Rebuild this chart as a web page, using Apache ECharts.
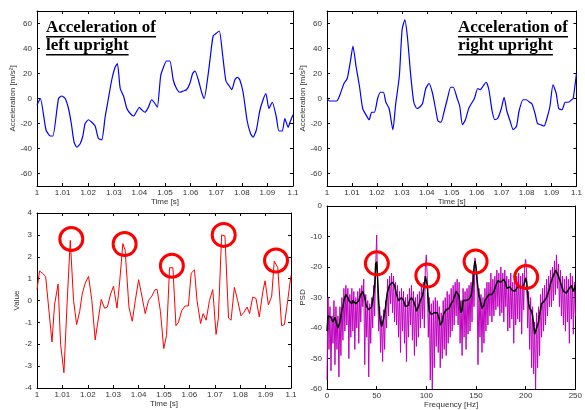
<!DOCTYPE html>
<html>
<head>
<meta charset="utf-8">
<script src="https://cdn.jsdelivr.net/npm/echarts@6/dist/echarts.min.js"></script>
<style>
  html, body { margin: 0; padding: 0; background: #fff; }
  #chart { width: 585px; height: 410px; }
</style>
</head>
<body>
<div id="chart"></div>
<script>
// --- top-left: acceleration of left upright ---
const leftTime = [1.0000,1.0013,1.0035,1.0052,1.0062,1.0084,1.0097,1.0110,1.0123,1.0134,
  1.0145,1.0156,1.0169,1.0179,1.0188,1.0201,1.0214,1.0227,1.0240,1.0253,
  1.0266,1.0279,1.0292,1.0305,1.0314,1.0325,1.0338,1.0351,1.0364,1.0377,
  1.0390,1.0400,1.0409,1.0422,1.0435,1.0448,1.0461,1.0470,1.0483,1.0494,
  1.0506,1.0519,1.0532,1.0545,1.0558,1.0571,1.0584,1.0597,1.0608,1.0617,
  1.0630,1.0643,1.0653,1.0669,1.0678,1.0688,1.0699,1.0712,1.0725,1.0738,
  1.0751,1.0761,1.0773,1.0783,1.0792,1.0805,1.0821,1.0834,1.0844,1.0857,
  1.0870,1.0883,1.0894,1.0906,1.0919,1.0935,1.0945,1.0958,1.0968,1.0981,
  1.0990,1.1000];
const leftAccel = [-5,0,-25,-30,-30,0,2,0,-8,-20,
  -35,-39,-36,-30,-20,-17,-19,-22,-32,-33,
  -15,0,15,25,28,8,2,-8,-12,-14,
  -10,-7,-9,-11,-7,-1,-4,-7,18,25,
  30,30,15,8,5,6,7,12,20,22,
  15,5,0,20,35,50,52,54,35,14,
  10,7,15,17,15,5,-18,-28,-31,-25,
  -10,-1,4,-8,-3,-15,-26,-26,-16,-23,
  -18,-13];

// --- top-right: acceleration of right upright ---
const rightTime = [1.0000,1.0010,1.0026,1.0039,1.0052,1.0068,1.0081,1.0094,1.0104,1.0117,
  1.0130,1.0143,1.0156,1.0169,1.0179,1.0190,1.0203,1.0214,1.0226,1.0236,
  1.0249,1.0264,1.0275,1.0290,1.0301,1.0312,1.0322,1.0335,1.0348,1.0361,
  1.0371,1.0383,1.0396,1.0409,1.0422,1.0435,1.0445,1.0457,1.0470,1.0483,
  1.0496,1.0506,1.0522,1.0532,1.0543,1.0555,1.0568,1.0579,1.0591,1.0604,
  1.0614,1.0626,1.0638,1.0649,1.0662,1.0673,1.0684,1.0699,1.0710,1.0721,
  1.0734,1.0747,1.0760,1.0770,1.0786,1.0799,1.0812,1.0821,1.0834,1.0844,
  1.0857,1.0870,1.0883,1.0894,1.0906,1.0919,1.0929,1.0942,1.0955,1.0968,
  1.0981,1.0987,1.1000];
const rightAccel = [0,-2,-2,-2,3,12,16,30,42,25,
  10,-8,-13,-17,-11,-11,0,5,5,-3,
  -8,-25,-5,18,55,63,50,20,-3,-8,
  -7,-4,8,12,5,-8,-18,-19,-10,0,
  9,9,0,-6,-21,-17,-8,-4,0,8,
  7,10,13,7,-10,-17,-16,-8,1,-10,
  -18,-25,-22,-10,-1,-1,-3,-4,-12,-20,
  -21,-22,-15,-6,11,4,-8,-9,-3,-3,
  -1,0,20];

// --- bottom-left: value signal with marked peaks ---
const valueTime = [1.0000,1.0010,1.0021,1.0034,1.0059,1.0069,1.0083,1.0093,1.0106,1.0119,
  1.0131,1.0144,1.0156,1.0168,1.0178,1.0190,1.0203,1.0216,1.0229,1.0242,
  1.0253,1.0266,1.0277,1.0290,1.0301,1.0315,1.0325,1.0338,1.0347,1.0362,
  1.0375,1.0387,1.0400,1.0413,1.0426,1.0439,1.0452,1.0465,1.0473,1.0486,
  1.0499,1.0510,1.0522,1.0535,1.0547,1.0557,1.0570,1.0583,1.0596,1.0607,
  1.0620,1.0630,1.0644,1.0654,1.0666,1.0679,1.0692,1.0705,1.0714,1.0727,
  1.0740,1.0754,1.0764,1.0777,1.0790,1.0803,1.0814,1.0827,1.0837,1.0849,
  1.0862,1.0875,1.0889,1.0898,1.0911,1.0924,1.0934,1.0948,1.0963,1.0974,
  1.0987,1.1000];
const valueSig = [0.5,1.35,1.25,1.1,-1.9,-0.2,0.75,-2.0,-3.3,0,
  2.75,0,-1.1,-0.5,0.3,0.8,1.1,0,-1.8,-0.8,
  0.05,-0.35,-0.3,0.3,0.65,-0.35,0.8,2.6,2.3,-0.3,
  -0.95,0,0.95,0.2,-0.6,0,0.2,0.5,0.5,-0.5,
  -2.2,-1.6,1.5,1.5,-1.15,-1.0,-0.45,-0.25,-0.25,1.25,
  1.4,0,-1.05,-0.6,-0.9,0,0.5,-1.55,-0.8,3.0,
  2.95,-0.8,-0.9,0.6,0,-0.7,-0.55,-0.3,-0.6,0.15,
  0.1,-0.75,0.4,0.9,-0.2,0.2,1.8,1.5,-1.15,-1.1,
  0,1.15];
const valuePeakTime = [1.0135,1.0345,1.0531,1.0735,1.0941];
const valuePeakVal = [2.81,2.58,1.59,3.0,1.83];

// --- bottom-right: PSD, 1 Hz per entry starting at 0 Hz ---
const psdStepHz = 1;
const psdRaw = [-57,-30,-47,-33,-54,-36,-45,-31,-52,-33,
  -47,-36,-56,-33,-49,-30,-44,-27,-41,-26,
  -39,-27,-50,-29,-43,-27,-41,-28,-47,-30,
  -40,-28,-45,-27,-38,-26,-33,-24,-52,-29,
  -43,-31,-56,-32,-45,-30,-40,-26,-36,-20,
  -9.5,-27,-41,-33,-48,-36,-51,-34,-47,-31,
  -40,-24,-36,-23,-32,-22,-35,-23,-38,-25,
  -39,-26,-43,-28,-48,-27,-41,-28,-45,-30,
  -51,-29,-43,-27,-39,-26,-44,-28,-49,-30,
  -46,-29,-43,-28,-40,-26,-37,-25,-40,-20,
  -16,-24,-43,-30,-57,-32,-60,-31,-53,-30,
  -46,-31,-48,-33,-53,-35,-50,-31,-47,-30,
  -49,-28,-45,-29,-43,-27,-41,-26,-39,-25,
  -36,-24,-39,-25,-45,-31,-49,-27,-43,-28,
  -47,-27,-42,-26,-41,-25,-38,-22,-33,-17,
  -16.5,-23,-52,-27,-43,-29,-48,-30,-45,-27,
  -41,-25,-39,-25,-36,-22,-38,-24,-36,-23,
  -34,-21,-33,-22,-36,-20,-35,-22,-38,-21,
  -33,-23,-41,-24,-40,-22,-37,-25,-45,-24,
  -39,-23,-37,-22,-38,-23,-42,-22,-34,-20,
  -17.5,-22,-40,-28,-47,-30,-53,-33,-55,-38,
  -60,-35,-53,-33,-49,-29,-43,-27,-41,-26,
  -39,-24,-36,-23,-33,-21,-33,-20,-31,-18,
  -29,-16,-27,-19,-33,-21,-36,-23,-39,-24,
  -41,-23,-38,-24,-45,-22,-37,-23,-42,-25,
  -36];
const psdSmooth = [-41,-36,-35.5,-36,-36.5,-37,-38,-38,-36.5,-37,
  -39,-40,-40,-38,-36,-34,-33,-31,-30,-29,
  -29.5,-30,-31,-30.5,-31,-32,-31,-30.5,-31,-32,
  -32.5,-32,-31,-30,-29,-28.5,-28,-28,-30,-32,
  -33,-33.5,-34,-34,-34.5,-33,-31,-29,-26,-19,
  -18.3,-24,-31,-36,-38,-39.5,-39,-37,-35,-33,
  -30,-28,-27,-26,-25.5,-26,-25,-25,-26,-27.5,
  -29,-30,-31,-31,-30.5,-30,-30.5,-31,-32,-33,
  -33.5,-33,-32.5,-31,-30.5,-30,-30.5,-31,-32,-33,
  -34.5,-34,-33,-32,-31,-31,-29.5,-28,-26,-23,
  -22.5,-26,-31,-34.5,-35,-35.5,-36,-35,-35,-34.5,
  -34.5,-35,-36,-37,-39,-39.5,-38,-36,-35,-34.5,
  -34,-33.5,-33.5,-33.5,-33,-32,-31.5,-31,-30.5,-29,
  -28,-28,-28.5,-29.5,-33,-35,-34,-31,-30.5,-31,
  -31,-31.5,-31,-30.5,-30,-29.5,-29,-25,-20,-18,
  -20,-24,-27,-29.5,-30.5,-32,-33.5,-34,-32.5,-31,
  -30.5,-30,-29.5,-29,-28.5,-28.5,-29,-29,-28,-27,
  -26,-25.5,-24.5,-24,-24.5,-25,-25,-24.5,-24,-24,
  -25.5,-27,-27.5,-27,-26.5,-26.5,-27.5,-28,-28,-28,
  -27.5,-27,-26.5,-26,-26.5,-27,-27,-26.5,-26,-25,
  -23.5,-25,-29,-32,-33.5,-34,-34.5,-36,-39,-42,
  -41.5,-40,-39,-38,-35.5,-34,-32,-31.5,-31.5,-31,
  -30.5,-30,-29,-28,-27,-25.5,-24.5,-23.5,-23,-22,
  -21,-20.5,-21.5,-23,-24,-25,-26,-27,-28,-28,
  -28.5,-28.5,-28,-27.5,-28,-27,-26,-27,-28,-27,
  -26];
const psdPeakHz = [50.2,101,149.6,200.5];
const psdPeakVal = [-18.8,-22.8,-18.2,-23.3];

const accelTicks = [-60,-40,-20,0,20,40,60];

const zip = (xs, ys) => xs.map((x, i) => [x, ys[i]]);
const labelFont = '"Liberation Sans", Arial, sans-serif';
const titleFont = 'bold 17px "Liberation Serif", serif';

function textWidth(str, font) {
  const ctx = document.createElement('canvas').getContext('2d');
  ctx.font = font;
  return ctx.measureText(str).width;
}

const grids = [
  { left: 37, top: 11, width: 256, height: 175 },
  { left: 327, top: 11, width: 256, height: 175 },
  { left: 37, top: 213, width: 254, height: 175 },
  { left: 327, top: 206, width: 256, height: 187 }
];

const lineStyle = { color: '#000', width: 1 };
const timeFmt = v => String(+v.toFixed(2));

function xPair(gi, min, max, interval, name, fmt) {
  const base = {
    type: 'value', gridIndex: gi, min, max, interval,
    axisLine: { onZero: false, lineStyle },
    axisTick: { inside: true, length: 3, lineStyle },
    splitLine: { show: false }
  };
  return [
    Object.assign({}, base, {
      position: 'bottom', name, nameLocation: 'middle', nameGap: 11,
      nameTextStyle: { fontSize: 8, color: '#333', fontFamily: labelFont },
      axisLabel: { margin: 3, fontSize: 8, color: '#333', fontFamily: labelFont, formatter: fmt }
    }),
    Object.assign({}, base, { position: 'top', axisLabel: { show: false } })
  ];
}

function yPair(gi, min, max, interval, name, gap, ticks) {
  const base = {
    type: 'value', gridIndex: gi, min, max, interval,
    axisLine: { onZero: false, lineStyle },
    axisTick: { inside: true, length: 3, lineStyle },
    splitLine: { show: false }
  };
  if (ticks) base.axisTick.customValues = ticks;
  const label = { margin: 5, fontSize: 8, color: '#333', fontFamily: labelFont };
  if (ticks) label.customValues = ticks;
  return [
    Object.assign({}, base, {
      position: 'left', name, nameLocation: 'middle', nameGap: gap,
      nameTextStyle: { fontSize: 8, color: '#333', fontFamily: labelFont },
      axisLabel: label
    }),
    Object.assign({}, base, { position: 'right', axisLabel: { show: false } })
  ];
}

const xs = [
  xPair(0, 1, 1.1, 0.01, 'Time [s]', timeFmt),
  xPair(1, 1, 1.1, 0.01, 'Time [s]', timeFmt),
  xPair(2, 1, 1.1, 0.01, 'Time [s]', timeFmt),
  xPair(3, 0, 250, 50, 'Frequency [Hz]', null)
];
const ys = [
  yPair(0, -70, 70, 10, 'Acceleration [m/s²]', 18, accelTicks),
  yPair(1, -70, 70, 10, 'Acceleration [m/s²]', 18, accelTicks),
  yPair(2, -4, 4, 1, 'Value', 14, null),
  yPair(3, -60, 0, 10, 'PSD', 16, null)
];
// bottom/left axes get index 0..3, top/right mirrors 4..7
const xAxis = xs.map(p => p[0]).concat(xs.map(p => p[1]));
const yAxis = ys.map(p => p[0]).concat(ys.map(p => p[1]));

function line(gi, data, color, width, extra) {
  return Object.assign({
    type: 'line', xAxisIndex: gi, yAxisIndex: gi, data,
    showSymbol: false, symbol: 'none',
    lineStyle: { color, width }, itemStyle: { color }
  }, extra || {});
}

function circles(gi, data) {
  return {
    type: 'scatter', xAxisIndex: gi, yAxisIndex: gi, data,
    symbol: 'circle', symbolSize: 23, z: 5,
    itemStyle: { color: 'rgba(0,0,0,0)', borderColor: '#ff0000', borderWidth: 3, opacity: 1 }
  };
}

function titleBlock(x, lines) {
  const els = [];
  const ys = [28, 46];
  lines.forEach((t, i) => {
    els.push({ type: 'text', x, y: ys[i], z: 100,
      style: { text: t, font: titleFont, fill: '#000', verticalAlign: 'middle' } });
    els.push({ type: 'rect', z: 100,
      shape: { x, y: ys[i] + 8, width: textWidth(t, titleFont), height: 1.6 },
      style: { fill: '#000' } });
  });
  return els;
}

const chart = echarts.init(document.getElementById('chart'), null, { renderer: 'canvas' });
chart.setOption({
  animation: false,
  backgroundColor: '#fff',
  grid: grids,
  xAxis,
  yAxis,
  series: [
    line(0, zip(leftTime, leftAccel), '#0000ff', 1.2, { smooth: 0.2 }),
    line(1, zip(rightTime, rightAccel), '#0000ff', 1.2, { smooth: 0.2 }),
    line(2, zip(valueTime, valueSig), '#ff0000', 1),
    circles(2, zip(valuePeakTime, valuePeakVal)),
    line(3, psdRaw.map((v, i) => [i * psdStepHz, v]), '#bf00bf', 1),
    line(3, psdSmooth.map((v, i) => [i * psdStepHz, v]), '#000000', 1.5),
    circles(3, zip(psdPeakHz, psdPeakVal))
  ],
  graphic: titleBlock(46, ['Acceleration of', 'left upright'])
    .concat(titleBlock(458, ['Acceleration of', 'right upright']))
});
</script>
</body>
</html>
